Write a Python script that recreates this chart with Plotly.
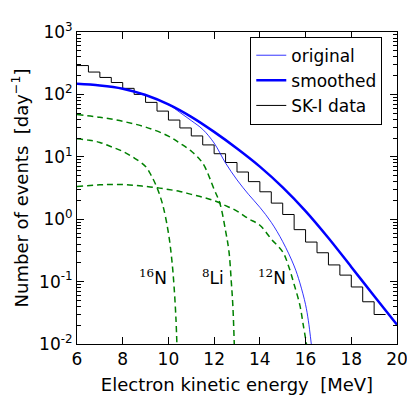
import plotly.graph_objects as go

# SK-I data histogram (0.5 MeV bins, left edges + final right edge)
hist_edges = [6.0, 6.5, 7.0, 7.5, 8.0, 8.5, 9.0, 9.5, 10.0, 10.5, 11.0, 11.5, 12.0, 12.5,
              13.0, 13.5, 14.0, 14.5, 15.0, 15.5, 16.0, 16.5, 17.0, 17.5, 18.0, 18.5, 19.0, 19.5]
hist_vals = [290, 228, 187, 155, 125, 100, 74.5, 54, 38.8, 29, 21.6, 15.5, 11.2, 8.1,
             5.7, 4.0, 2.75, 1.81, 1.19, 0.68, 0.43, 0.29, 0.185, 0.127, 0.082, 0.0475, 0.0297]

# smoothed spectrum
smooth_x = [6, 7, 8, 9, 10, 11, 12, 13, 14, 15, 16, 17, 18, 19, 20]
smooth_y = [147.6, 139, 123.6, 97.7, 69.2, 43.7, 25.1, 13.6, 6.97, 3.24, 1.35, 0.50, 0.172,
            0.0587, 0.0203]

# original spectrum
orig_x = [6, 7, 8, 9, 10, 10.5, 11, 11.5, 12, 12.5, 13, 13.5, 14, 14.5, 15, 15.5, 15.75,
          16, 16.12, 16.25]
orig_y = [147.6, 139, 123.6, 97.7, 68.8, 51.5, 38, 27.5, 16.6, 7.94, 4.27, 2.51, 1.55, 0.89,
          0.437, 0.178, 0.0955, 0.0427, 0.024, 0.01]

# isotope components
n16_x = [6, 6.5, 7, 7.5, 8, 8.5, 9, 9.25, 9.5, 9.75, 10.0, 10.15, 10.25, 10.33, 10.37]
n16_y = [19.5, 18.5, 17, 14.5, 12.2, 9.6, 7.0, 5.0, 3.2, 1.7, 0.6, 0.22, 0.08, 0.025, 0.01]

li8_x = [6, 7, 8, 9, 10, 10.5, 11, 11.5, 12, 12.25, 12.5, 12.65, 12.75, 12.82, 12.88]
li8_y = [47.5, 43, 37, 30, 21.5, 16.5, 12.3, 7.9, 3.0, 1.8, 0.65, 0.3, 0.1, 0.04, 0.01]

n12_x = [6, 7, 7.5, 8, 8.5, 9, 9.5, 10, 10.5, 11, 11.5, 12, 12.5, 13, 13.5, 14, 14.5, 15,
         15.25, 15.5, 15.75, 15.9, 16.04]
n12_y = [3.35, 3.55, 3.6, 3.6, 3.5, 3.35, 3.2, 3.0, 2.78, 2.5, 2.25, 1.98, 1.65, 1.35, 1.02,
         0.8, 0.48, 0.3, 0.18, 0.09, 0.042, 0.02, 0.01]

labels = ["16", "8", "12"]
label_sym = ["N", "Li", "N"]
label_x = [9.31, 11.94, 14.55]

FONT = "DejaVu Sans"
NB = "\u00a0"

fig = go.Figure()

for xs, ys in [(n16_x, n16_y), (li8_x, li8_y), (n12_x, n12_y)]:
    fig.add_trace(go.Scatter(x=xs, y=ys, mode="lines", showlegend=False,
                             line=dict(color="#008000", width=1.5, dash="6px,4px", shape="spline")))

fig.add_trace(go.Scatter(x=hist_edges, y=hist_vals + [hist_vals[-1]], mode="lines",
                         name="SK-I data", legendrank=3,
                         line=dict(color="black", width=1, shape="hv")))
fig.add_trace(go.Scatter(x=orig_x, y=orig_y, mode="lines", name="original", legendrank=1,
                         line=dict(color="#0000ff", width=0.8, shape="spline")))
fig.add_trace(go.Scatter(x=smooth_x, y=smooth_y, mode="lines", name="smoothed", legendrank=2,
                         line=dict(color="#0000ff", width=2.5, shape="spline")))

for num, sym, lx in zip(labels, label_sym, label_x):
    fig.add_annotation(x=lx, y=-0.93, xref="x", yref="y", showarrow=False,
                       text=f"<span style='font-family:DejaVu Serif'><sup>{num}</sup></span>{sym}",
                       font=dict(family=FONT, size=17, color="black"))

minor_y = [m * 10 ** e for e in range(-2, 3) for m in range(2, 10)]

fig.update_xaxes(range=[6, 20], tickvals=[6, 8, 10, 12, 14, 16, 18, 20],
                 ticks="inside", ticklen=7, tickcolor="black", showline=True,
                 linecolor="black", linewidth=1, mirror="allticks", showgrid=False,
                 zeroline=False, tickfont=dict(size=17),
                 title=dict(text=f"Electron kinetic energy{NB}{NB}[MeV]", font=dict(size=18),
                            standoff=9))

fig.update_yaxes(type="log", range=[-2, 3],
                 tickvals=[0.01, 0.1, 1, 10, 100, 1000],
                 ticktext=["10<sup>-2</sup>", "10<sup>-1</sup>", "10<sup>0</sup>",
                           "10<sup>1</sup>", "10<sup>2</sup>", "10<sup>3</sup>"],
                 ticks="inside", ticklen=7, tickcolor="black", showline=True,
                 linecolor="black", linewidth=1, mirror="allticks", showgrid=False,
                 zeroline=False, tickfont=dict(size=17),
                 minor=dict(tickvals=minor_y, ticks="inside", ticklen=4, tickcolor="black",
                            showgrid=False),
                 title=dict(text=f"Number of events{NB}{NB}[day<sup>−1</sup>]", font=dict(size=18),
                            standoff=6))

fig.update_layout(
    width=415, height=395,
    margin=dict(l=64, r=26, t=12, b=58),
    plot_bgcolor="white", paper_bgcolor="white",
    font=dict(family=FONT, color="black"),
    legend=dict(x=0.5415, y=0.985, xanchor="left", yanchor="top",
                bordercolor="black", borderwidth=1, bgcolor="white",
                font=dict(size=17)),
)

fig.write_html("out.html")
